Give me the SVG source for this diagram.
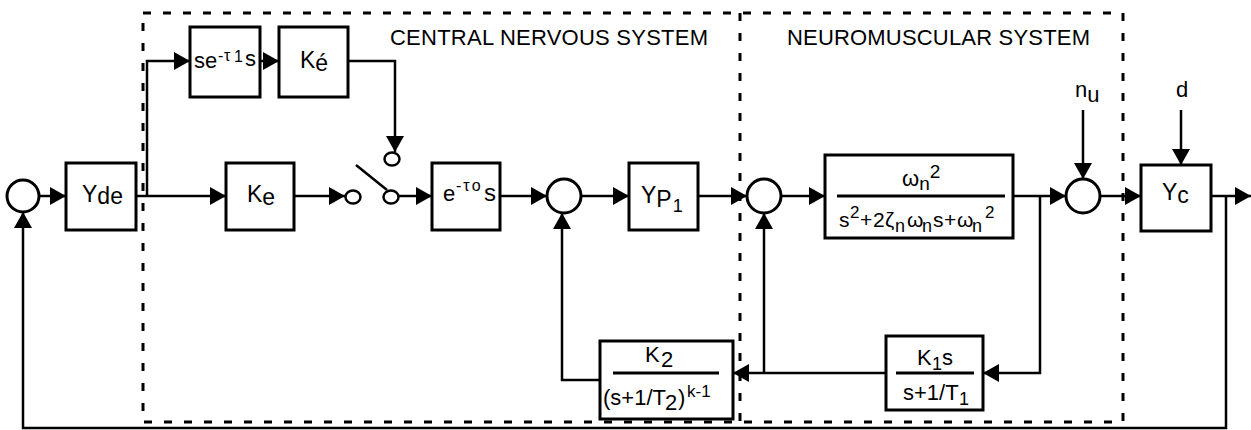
<svg xmlns="http://www.w3.org/2000/svg" width="1251" height="430" viewBox="0 0 1251 430">
<style>
.box{fill:#fff;stroke:#000;stroke-width:3}
.sum{fill:#fff;stroke:#000;stroke-width:3}
.sw{fill:#fff;stroke:#000;stroke-width:2.5}
.ln{fill:none;stroke:#000;stroke-width:2.5}
.arr{fill:none;stroke:#000;stroke-width:2.5;marker-end:url(#ah)}
.frac{stroke:#000;stroke-width:3}
.dash{fill:none;stroke:#000;stroke-width:3;stroke-dasharray:8 12}
text{font-family:"Liberation Sans",Arial,Helvetica,sans-serif;font-size:21px;fill:#000}
.t{font-size:22px}
.lb{font-size:23px}
.sup{font-size:16px}
</style>
<defs>
<marker id="ah" markerUnits="userSpaceOnUse" markerWidth="16" markerHeight="18" refX="16" refY="9" orient="auto">
<path d="M0,0 L16,9 L0,18 Z" fill="#000"/>
</marker>
</defs>
<rect width="1251" height="430" fill="#fff"/>

<g id="regions">
<path class="dash" d="M143,13 H1123 V422 H143 Z"/>
<path class="dash" d="M740,13 V422"/>
<text class="t" x="390" y="45" textLength="318" lengthAdjust="spacing">CENTRAL NERVOUS SYSTEM</text>
<text class="t" x="787" y="45" textLength="303" lengthAdjust="spacing">NEUROMUSCULAR SYSTEM</text>
</g>

<g id="connectors">
<path class="arr" d="M39,196 H66"/>
<path class="ln" d="M136,196 H147"/>
<path class="arr" d="M147,196 H226"/>
<path class="arr" d="M147,196 V61 H190"/>
<path class="arr" d="M260,61 H279"/>
<path class="arr" d="M348,61 H395 V152"/>
<path class="arr" d="M294,196 H345"/>
<path class="arr" d="M399,196 H432"/>
<path class="arr" d="M500,196 H547"/>
<path class="arr" d="M581,196 H629"/>
<path class="arr" d="M698,196 H747"/>
<path class="arr" d="M781,196 H825"/>
<path class="arr" d="M1013,196 H1066"/>
<path class="arr" d="M1040,196 V373 H983"/>
<path class="arr" d="M1100,196 H1141"/>
<path class="arr" d="M1211,196 H1251"/>
<path class="arr" d="M1226,196 V428 H23 V212"/>
<path class="arr" d="M886,373 H733"/>
<path class="arr" d="M764,373 V213"/>
<path class="arr" d="M600,380 H562 V213"/>
<path class="arr" d="M1083,110 V179"/>
<path class="arr" d="M1181,110 V165"/>
<path class="ln" d="M356,165 L387,190"/>
</g>

<g id="sum0"><circle class="sum" cx="23" cy="196" r="16"/></g>

<g id="Yde">
<rect class="box" x="66" y="163" width="70" height="67"/>
<text class="lb" x="82" y="202">Y<tspan dy="2">de</tspan></text>
</g>

<g id="delay1">
<rect class="box" x="190" y="27" width="70" height="70"/>
<text class="t" y="68"><tspan x="194">se</tspan><tspan class="sup" x="218" y="61">-</tspan><tspan class="sup" x="224" y="61">τ</tspan><tspan class="sup" x="234" y="62">1</tspan><tspan x="245" y="66">s</tspan></text>
</g>

<g id="Kedot">
<rect class="box" x="279" y="27" width="69" height="70"/>
<text class="lb" x="300" y="68">K<tspan dy="3">é</tspan></text>
</g>

<g id="Ke">
<rect class="box" x="226" y="163" width="68" height="67"/>
<text class="lb" x="247" y="202">K<tspan dy="3">e</tspan></text>
</g>

<g id="switch">
<ellipse class="sw" cx="353" cy="197" rx="7.5" ry="6.5"/>
<ellipse class="sw" cx="391" cy="197" rx="7.5" ry="6.5"/>
<ellipse class="sw" cx="392" cy="159" rx="7.5" ry="6.5"/>
</g>

<g id="delay0">
<rect class="box" x="432" y="163" width="68" height="67"/>
<text class="t" y="201"><tspan x="443">e</tspan><tspan class="sup" x="456" y="191" letter-spacing="2">-τo</tspan><tspan x="484" y="201" font-size="24">s</tspan></text>
</g>

<g id="sum2"><circle class="sum" cx="564" cy="196" r="17"/></g>

<g id="YP1">
<rect class="box" x="629" y="163" width="69" height="67"/>
<text class="lb" x="641" y="203">Y<tspan dy="4">P</tspan><tspan dy="5" font-size="18" dx="1">1</tspan></text>
</g>

<g id="sum3"><circle class="sum" cx="764" cy="196" r="17"/></g>

<g id="muscle">
<rect class="box" x="825" y="155" width="188" height="83"/>
<line class="frac" x1="837" y1="196" x2="1005" y2="196"/>
<text class="t" x="902" y="186">ω<tspan dy="4" font-size="19">n</tspan><tspan dy="-12" font-size="19">2</tspan></text>
<text font-size="20" y="227"><tspan x="839">s</tspan><tspan x="850" y="218" font-size="17">2</tspan><tspan x="860" y="227">+</tspan><tspan x="873">2</tspan><tspan x="885">ζ</tspan><tspan x="895" y="232" font-size="18">n</tspan><tspan x="907" y="227">ω</tspan><tspan x="922" y="232" font-size="18">n</tspan><tspan x="933" y="227">s</tspan><tspan x="944">+</tspan><tspan x="957">ω</tspan><tspan x="972" y="232" font-size="18">n</tspan><tspan x="985" y="218" font-size="17">2</tspan></text>
</g>

<g id="sum4"><circle class="sum" cx="1083" cy="196" r="17"/></g>

<g id="Yc">
<rect class="box" x="1141" y="165" width="70" height="66"/>
<text class="lb" x="1162" y="200">Y<tspan dy="3">c</tspan></text>
</g>

<g id="nu"><text class="t" x="1075" y="97">n<tspan dy="5">u</tspan></text></g>
<g id="d"><text class="t" x="1176" y="97">d</text></g>

<g id="K1">
<rect class="box" x="886" y="336" width="97" height="74"/>
<line class="frac" x1="896" y1="373" x2="974" y2="373"/>
<text class="t" y="365"><tspan x="917">K</tspan><tspan x="932" y="370" font-size="18">1</tspan><tspan x="942" y="365">s</tspan></text>
<text class="t" y="400"><tspan x="903">s+1/T</tspan><tspan x="959" y="405" font-size="18">1</tspan></text>
</g>

<g id="K2">
<rect class="box" x="600" y="341" width="133" height="78"/>
<line class="frac" x1="613" y1="373" x2="719" y2="373"/>
<text class="t" y="362"><tspan x="645">K</tspan><tspan x="661" y="367">2</tspan></text>
<text class="t" y="405"><tspan x="603">(s+1/T</tspan><tspan x="665" y="410">2</tspan><tspan x="678" y="405">)</tspan><tspan x="687" y="397" font-size="17">k-1</tspan></text>
</g>
</svg>
